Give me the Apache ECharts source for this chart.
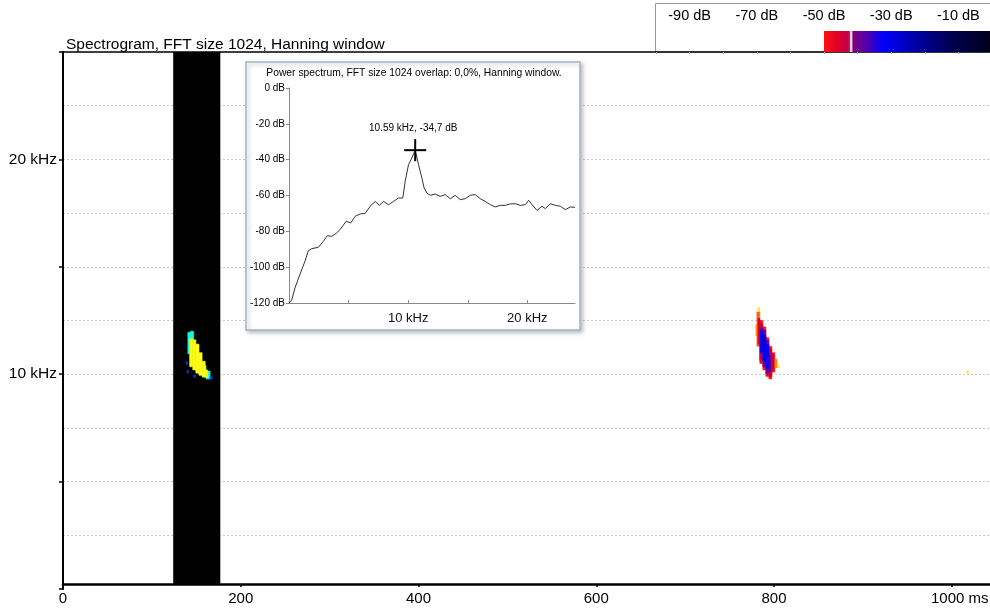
<!DOCTYPE html>
<html>
<head>
<meta charset="utf-8">
<script src="https://cdn.jsdelivr.net/npm/echarts@6/dist/echarts.min.js"></script>
<style>
html,body{margin:0;padding:0;background:#fff;}
#chart{width:990px;height:608px;}
</style>
</head>
<body>
<div id="chart"></div>
<script>
// ---------------- DATA ----------------
const mainTitle = 'Spectrogram, FFT size 1024, Hanning window';
const insetTitle = 'Power spectrum, FFT size 1024 overlap: 0,0%, Hanning window.';
const timeTicks = [0, 200, 400, 600, 800, 1000];          // ms
const freqLabelTicks = [10, 20];                           // kHz
const dbLabelTicks = [-90, -70, -50, -30, -10];            // colour bar labels

// dark (gap) band in the spectrogram: [t0 ms, t1 ms, f0 kHz, f1 kHz]
const bandData = [[124, 177, 0.23, 25]];

// spectrogram energy, first call (drawn over the dark band): [t0, t1, f0, f1, dB]
const call1Data = [
  [140.5, 143.5, 10.95, 11.95, -47],
  [143.5, 147.0, 11.55, 12.00, -47],
  [153.0, 157.0, 9.98, 10.55, -47],
  [157.0, 161.0, 9.86, 10.40, -47],
  [161.0, 165.5, 9.78, 10.15, -47],
  [142.5, 146.0, 10.35, 11.65, -30],
  [146.0, 149.5, 10.20, 11.60, -30],
  [149.5, 153.0, 10.05, 11.40, -30],
  [153.0, 156.5, 9.95, 11.00, -30],
  [156.5, 160.0, 9.88, 10.60, -30],
  [160.0, 162.5, 9.86, 10.20, -31],
  [139.5, 141.0, 10.05, 10.20, -54],
  [165.5, 168.0, 9.76, 9.88, -54],
  [147.0, 149.0, 9.86, 9.96, -54],
  [138.5, 140.0, 10.45, 10.60, -54]
];

// spectrogram energy, second call: [t0, t1, f0, f1, dB]
const call2Data = [
  [779.5, 781.0, 11.80, 12.30, -53],
  [782.0, 784.0, 12.95, 13.10, -55],
  [804.5, 806.0, 10.30, 10.40, -55],
  [1017.0, 1019.0, 10.05, 10.15, -55],
  [780.7, 784.0, 11.30, 12.90, -51],
  [784.0, 787.4, 10.50, 12.50, -49],
  [787.4, 790.8, 10.20, 12.20, -50],
  [790.8, 794.2, 9.90, 11.70, -49],
  [794.2, 797.5, 9.78, 11.30, -50],
  [797.5, 800.9, 10.10, 11.00, -49],
  [800.9, 803.5, 10.30, 10.70, -52],
  [782.0, 784.0, 11.40, 12.60, -45],
  [784.0, 787.4, 10.65, 12.35, -44],
  [787.4, 790.8, 10.35, 12.05, -39],
  [790.8, 794.2, 10.02, 11.58, -40],
  [794.2, 797.5, 9.90, 11.18, -44],
  [797.5, 800.0, 10.20, 10.90, -44],
  [784.5, 787.4, 11.00, 12.10, -31],
  [787.4, 790.8, 10.60, 11.80, -30],
  [790.8, 794.2, 10.25, 11.40, -33],
  [794.2, 796.0, 10.10, 10.90, -36]
];

// colour map of the spectrogram (dB -> colour)
const cmapDb    = [-56, -53, -50.5, -50, -46, -43, -42.3, -42.1, -41.7, -41.4, -37, -32.5, -22, -12, 0];
const cmapColor = ['#ffff40','#ffb000','#ff5000','#ff1010','#e00028','#c00048','#c02068','#f2d2e2','#f2d2e2','#80007e','#5000b0','#0000ff','#0000a0','#000050','#000018'];
const colourBarRange = [[-50, 0]];

// power spectrum (inset): frequency kHz / level dB
const specFreq = [0, 0.22, 0.5, 0.92, 1.34, 1.62, 1.9, 2.46, 2.88, 3.22, 3.59, 4.0, 4.29, 4.79, 5.18, 5.55, 5.97, 6.39, 6.81, 7.23, 7.59, 7.93, 8.35, 8.77, 9.19, 9.55, 9.75, 10.03, 10.31, 10.59, 10.87, 11.15, 11.34, 11.57, 11.85, 12.27, 12.69, 13.11, 13.53, 13.95, 14.37, 14.79, 15.21, 15.63, 16.05, 16.47, 16.89, 17.31, 17.73, 18.15, 18.57, 18.99, 19.41, 19.83, 20.11, 20.39, 20.81, 21.23, 21.51, 21.93, 22.35, 22.77, 23.19, 23.61, 24.0];
const specDb   = [-120, -118.7, -111.6, -104, -96.7, -90.8, -89.7, -88.9, -85.6, -82.4, -82.8, -80.9, -79, -74.4, -75.3, -71.6, -70.3, -70, -66, -63.3, -65.5, -63.3, -65.1, -63.3, -61.4, -61.4, -52, -42.8, -39, -34.7, -42.8, -50.2, -55.8, -58.6, -59.9, -59.2, -60.5, -59.5, -61.8, -59.9, -62.3, -61.8, -59.9, -59.5, -61.8, -63.3, -65.1, -66.4, -65.5, -65.5, -64.7, -64.6, -65.5, -65.1, -62.7, -65.1, -68.3, -66, -67.3, -64.6, -65.5, -66, -67.9, -66.4, -66.6];
const peakData = [[10.59, -34.7]];
const peakLabel = '10.59 kHz, -34,7 dB';

// ---------------- HELPERS ----------------
function hexToRgb(h){ return [parseInt(h.slice(1,3),16), parseInt(h.slice(3,5),16), parseInt(h.slice(5,7),16)]; }
function rgbStr(c){ return 'rgb(' + c.map(v => Math.round(v)).join(',') + ')'; }
function colourFor(db){
  if (db <= cmapDb[0]) return hexToRgb(cmapColor[0]);
  for (let i = 1; i < cmapDb.length; i++) {
    if (db <= cmapDb[i]) {
      const a = hexToRgb(cmapColor[i-1]), b = hexToRgb(cmapColor[i]);
      const t = (db - cmapDb[i-1]) / (cmapDb[i] - cmapDb[i-1]);
      return [0,1,2].map(k => a[k] + (b[k]-a[k])*t);
    }
  }
  return hexToRgb(cmapColor[cmapColor.length-1]);
}
function cellRenderer(invert){
  return function(params, api){
    const p0 = api.coord([api.value(0), api.value(3)]);
    const p1 = api.coord([api.value(1), api.value(2)]);
    let c = colourFor(api.value(4));
    if (invert) c = c.map(v => 255 - v);
    const fill = rgbStr(c);
    return { type: 'rect', shape: { x: p0[0], y: p0[1], width: p1[0]-p0[0], height: p1[1]-p0[1] },
      style: { fill: fill, stroke: fill, lineWidth: 0.6 } };
  };
}

const sans = 'Liberation Sans, Arial, sans-serif';

const chart = echarts.init(document.getElementById('chart'), null, { renderer: 'canvas' });

const gridBase = { containLabel: false, outerBoundsMode: 'none' };
const option = {
  animation: false,
  backgroundColor: '#fff',
  title: {
    text: mainTitle, left: 61, top: 32,
    textStyle: { fontFamily: sans, fontSize: 15.5, fontWeight: 'normal', color: '#000' }
  },
  grid: [
    Object.assign({ left: 63, top: 52, width: 927, height: 537 }, gridBase),
    Object.assign({ left: 656, top: 31, width: 336, height: 21 }, gridBase),
    Object.assign({ left: 289, top: 88, width: 286, height: 215 }, gridBase)
  ],
  xAxis: [
    { gridIndex: 0, type: 'value', min: 0, max: 1043, interval: 200, offset: -5,
      axisLine: { show: true, lineStyle: { color: '#000', width: 2.5 } },
      axisTick: { show: true, length: 3, lineStyle: { color: '#000', width: 1.5 } },
      splitLine: { show: false },
      axisLabel: { show: true, margin: 7, fontFamily: sans, fontSize: 15, color: '#000',
        showMaxLabel: false,
        formatter: v => (timeTicks.indexOf(v) < 0 ? '' : (v === 1000 ? '{p|}1000 ms' : String(v))),
        rich: { p: { width: 16, fontFamily: sans, fontSize: 15 } } } },
    { gridIndex: 0, type: 'value', position: 'top', min: 0, max: 1043,
      axisLine: { show: true, onZero: false, lineStyle: { color: '#000', width: 1.5 } },
      axisTick: { show: false }, axisLabel: { show: false }, splitLine: { show: false } },
    { gridIndex: 1, type: 'value', position: 'top', min: -100, max: 0, interval: 10,
      axisLine: { show: false },
      axisTick: { show: true, inside: true, length: 2, lineStyle: { color: '#aaa' } },
      splitLine: { show: false },
      axisLabel: { margin: 8, fontFamily: sans, fontSize: 14.5, color: '#000',
        formatter: v => (dbLabelTicks.indexOf(v) >= 0 ? v + ' dB' : '') } },
    { gridIndex: 2, type: 'value', min: 0, max: 24, interval: 5, z: 5,
      axisLine: { show: true, onZero: false, lineStyle: { color: '#888', width: 1 } },
      axisTick: { show: true, inside: true, length: 3, lineStyle: { color: '#888' } },
      splitLine: { show: false },
      axisLabel: { margin: 9, fontFamily: sans, fontSize: 13, color: '#111', showMaxLabel: false,
        formatter: v => (freqLabelTicks.indexOf(v) >= 0 ? v + ' kHz' : '') } }
  ],
  yAxis: [
    { gridIndex: 0, type: 'value', min: 0, max: 25, interval: 5,
      axisLine: { show: true, onZero: false, lineStyle: { color: '#000', width: 2 } },
      axisTick: { show: true, length: 4, lineStyle: { color: '#000', width: 1.5 } },
      minorTick: { show: false, splitNumber: 2 },
      splitLine: { show: true, showMinLine: false, showMaxLine: false, lineStyle: { color: '#c8c8c8', type: [2, 2], width: 1 } },
      minorSplitLine: { show: true, lineStyle: { color: '#c8c8c8', type: [2, 2], width: 1 } },
      axisLabel: { margin: 6, fontFamily: sans, fontSize: 15.5, color: '#000',
        formatter: v => (freqLabelTicks.indexOf(v) >= 0 ? v + ' kHz' : '') } },
    { gridIndex: 1, type: 'value', min: 0, max: 1, show: false },
    { gridIndex: 2, type: 'value', min: -120, max: 0, interval: 20, z: 5,
      axisLine: { show: true, onZero: false, lineStyle: { color: '#888', width: 1 } },
      axisTick: { show: true, length: 3, lineStyle: { color: '#888' } },
      splitLine: { show: false },
      axisLabel: { margin: 4, fontFamily: sans, fontSize: 10, color: '#000', formatter: v => v + ' dB' } }
  ],
  graphic: [
    { type: 'rect', z: 0, shape: { x: 655.5, y: 3.5, width: 340, height: 48.5 },
      style: { fill: '#fff', stroke: '#9a9a9a', lineWidth: 1 } },
    { type: 'rect', z: 3, shape: { x: 246, y: 62, width: 334, height: 268 },
      style: { fill: '#fff', stroke: '#a3b8c4', lineWidth: 1.5, shadowBlur: 4, shadowColor: 'rgba(0,0,0,0.25)', shadowOffsetX: 2, shadowOffsetY: 2 } },
    { type: 'text', z: 6, x: 414, y: 73,
      style: { text: insetTitle, fontFamily: sans, fontSize: 10.3, fill: '#000', textAlign: 'center', textVerticalAlign: 'middle' } }
  ],
  series: [
    { type: 'custom', xAxisIndex: 0, yAxisIndex: 0, z: 2, data: bandData,
      renderItem: function(params, api){
        const p0 = api.coord([api.value(0), api.value(3)]);
        const p1 = api.coord([api.value(1), api.value(2)]);
        return { type: 'rect', shape: { x: p0[0], y: p0[1], width: p1[0]-p0[0], height: p1[1]-p0[1] }, style: { fill: '#000' } };
      } },
    { type: 'custom', xAxisIndex: 0, yAxisIndex: 0, z: 2, data: call1Data, renderItem: cellRenderer(true) },
    { type: 'custom', xAxisIndex: 0, yAxisIndex: 0, z: 2, data: call2Data, renderItem: cellRenderer(false) },
    { type: 'custom', xAxisIndex: 2, yAxisIndex: 1, z: 2, data: colourBarRange,
      renderItem: function(params, api){
        const a = api.value(0), b = api.value(1);
        const p0 = api.coord([a, 1]);
        const p1 = api.coord([b, 0]);
        const stops = [];
        cmapDb.forEach((d, i) => { if (d >= a && d <= b) stops.push({ offset: (d - a) / (b - a), color: cmapColor[i] }); });
        return { type: 'rect', shape: { x: p0[0], y: p0[1], width: p1[0]-p0[0], height: p1[1]-p0[1] },
          style: { fill: { type: 'linear', x: 0, y: 0, x2: 1, y2: 0, colorStops: stops } } };
      } },
    { type: 'line', xAxisIndex: 3, yAxisIndex: 2, z: 6, showSymbol: false, smooth: false,
      lineStyle: { color: '#333', width: 1 },
      data: specFreq.map((f, i) => [f, specDb[i]]) },
    { type: 'custom', xAxisIndex: 3, yAxisIndex: 2, z: 7, data: peakData,
      renderItem: function(params, api){
        const p = api.coord([api.value(0), api.value(1)]);
        const h = 11;
        return { type: 'group', children: [
          { type: 'line', shape: { x1: p[0]-h, y1: p[1], x2: p[0]+h, y2: p[1] }, style: { stroke: '#000', lineWidth: 2 } },
          { type: 'line', shape: { x1: p[0], y1: p[1]-h, x2: p[0], y2: p[1]+h }, style: { stroke: '#000', lineWidth: 2 } },
          { type: 'text', x: p[0] - 2, y: p[1] - 22, style: { text: peakLabel, fontFamily: sans, fontSize: 10, fill: '#000', textAlign: 'center', textVerticalAlign: 'middle' } }
        ] };
      } }
  ]
};
chart.setOption(option);
</script>
</body>
</html>
